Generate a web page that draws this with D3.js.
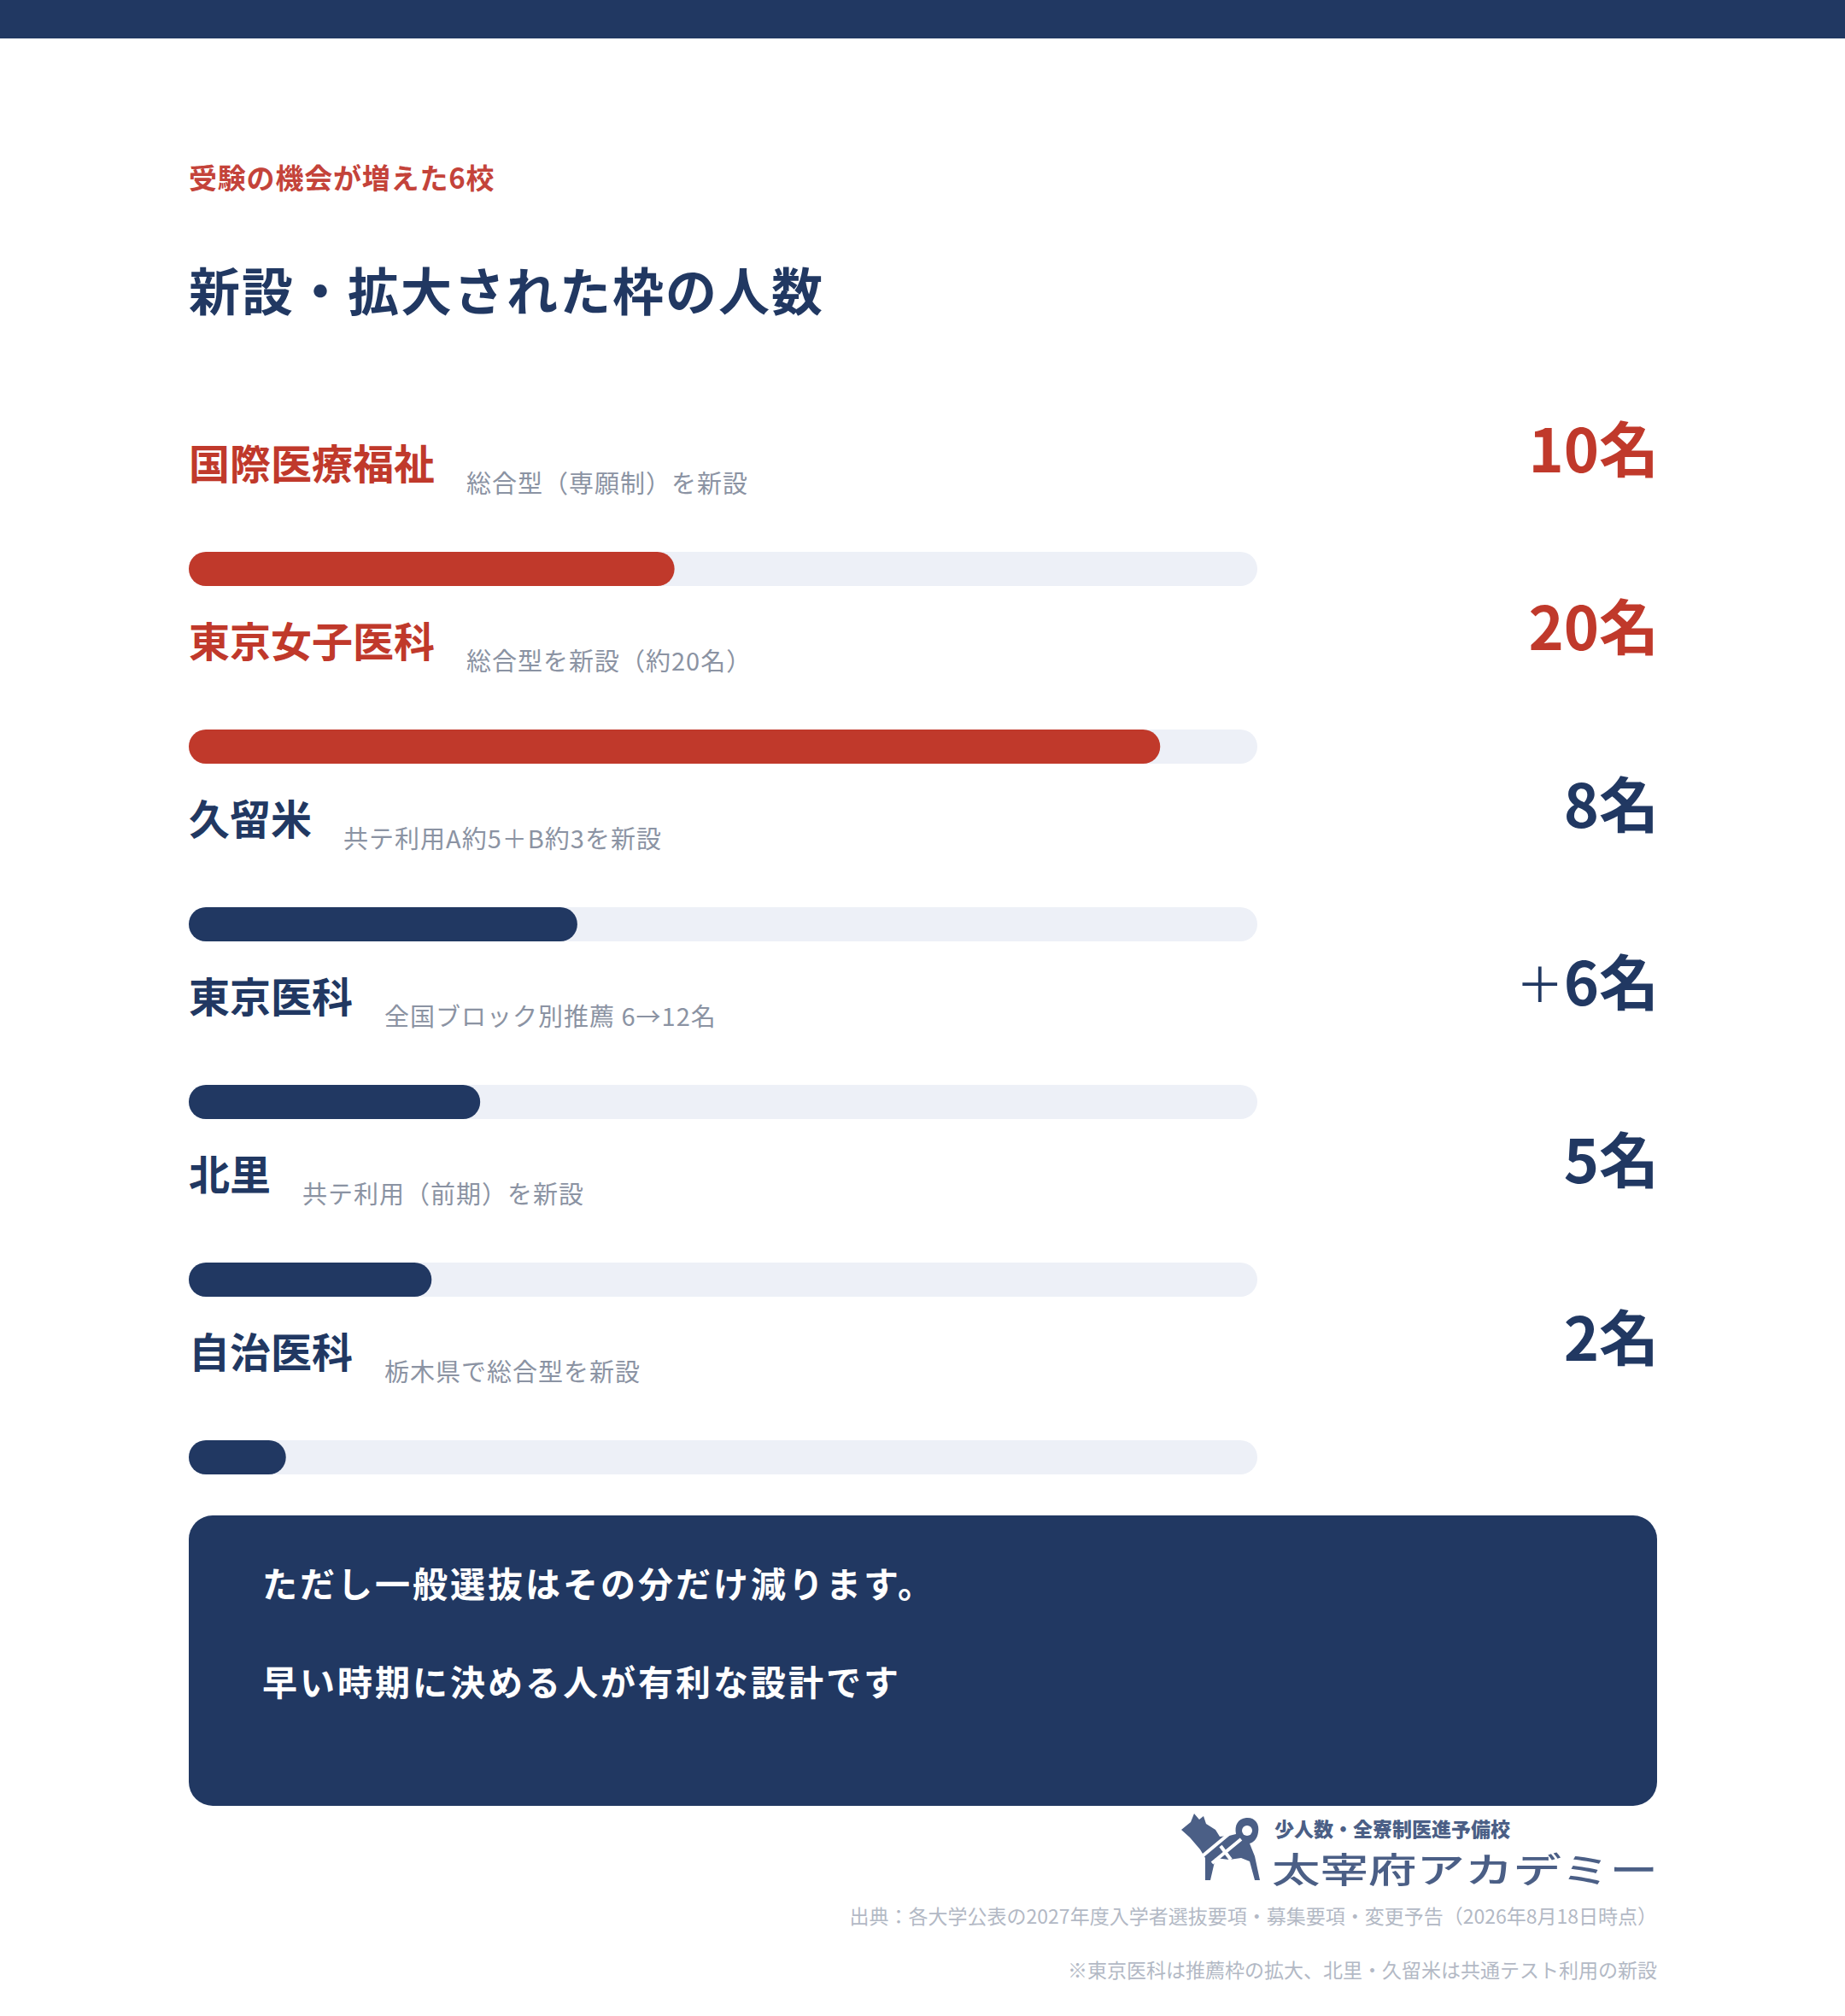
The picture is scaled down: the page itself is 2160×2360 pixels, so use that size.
<!DOCTYPE html>
<html lang="ja">
<head>
<meta charset="utf-8">
<script src="https://cdn.jsdelivr.net/npm/d3@7"></script>
<style>
  body { margin: 0; background: #fff; }
  svg { display: block; font-family: "Noto Sans CJK JP", "Noto Sans", sans-serif; }
</style>
</head>
<body>
<svg id="chart" width="2160" height="2360"></svg>
<script>
// data
var schools = ["国際医療福祉", "東京女子医科", "久留米", "東京医科", "北里", "自治医科"];
var notes = [
    "総合型（専願制）を新設",
    "総合型を新設（約20名）",
    "共テ利用A約5＋B約3を新設",
    "全国ブロック別推薦 6→12名",
    "共テ利用（前期）を新設",
    "栃木県で総合型を新設"
];
var counts = [10, 20, 8, 6, 5, 2];
var countPrefix = ["", "", "", "＋", "", ""];
var highlighted = ["国際医療福祉", "東京女子医科"];
var countMax = 22;

var kicker = "受験の機会が増えた6校";
var title = "新設・拡大された枠の人数";
var boxLines = ["ただし一般選抜はその分だけ減ります。", "早い時期に決める人が有利な設計です"];
var sourceLines = [
    "出典：各大学公表の2027年度入学者選抜要項・募集要項・変更予告（2026年8月18日時点）",
    "※東京医科は推薦枠の拡大、北里・久留米は共通テスト利用の新設"
];

var navy = "#213862";
var red = "#c0392b";

var drawChart = function() {
    let svg = d3.select("#chart");

    let margin = { left: 221, right: 220 };
    let trackWidth = 1251;
    let barH = 40;

    // top band
    svg.append("rect")
        .attr("x", 0).attr("y", 0)
        .attr("width", 2160).attr("height", 45)
        .attr("fill", navy);

    svg.append("text")
        .attr("x", margin.left).attr("y", 221)
        .attr("fill", "#c4433a")
        .style("font-size", "33px")
        .style("font-weight", 700)
        .style("letter-spacing", "0.8px")
        .text(kicker);

    svg.append("text")
        .attr("x", margin.left).attr("y", 364)
        .attr("fill", navy)
        .style("font-size", "60px")
        .style("font-weight", 700)
        .style("letter-spacing", "2px")
        .text(title);

    let xScale = d3.scaleLinear()
        .domain([0, countMax])
        .range([0, trackWidth]);

    let yScale = d3.scalePoint()
        .domain(schools)
        .range([666, 1706]);

    let colorOf = function(name) {
        return highlighted.indexOf(name) >= 0 ? red : navy;
    };

    let rows = svg.selectAll("g.row")
        .data(schools.map(function(s, i) {
            return { name: s, note: notes[i], value: counts[i], prefix: countPrefix[i] };
        }))
        .enter().append("g")
        .attr("class", "row")
        .attr("transform", function(d) { return "translate(" + margin.left + "," + yScale(d.name) + ")"; });

    // track
    rows.append("rect")
        .attr("x", 0).attr("y", -barH / 2)
        .attr("width", xScale(countMax)).attr("height", barH)
        .attr("rx", barH / 2)
        .attr("fill", "#edf0f7");

    // filled bar
    rows.append("rect")
        .attr("x", 0).attr("y", -barH / 2)
        .attr("width", function(d) { return xScale(d.value); })
        .attr("height", barH)
        .attr("rx", barH / 2)
        .attr("fill", function(d) { return colorOf(d.name); });

    let labels = rows.append("text")
        .attr("x", 0).attr("y", -105)
        .attr("fill", function(d) { return colorOf(d.name); })
        .style("font-size", "48px")
        .style("font-weight", 700)
        .text(function(d) { return d.name; });

    rows.append("text")
        .attr("x", function(d, i) { return labels.nodes()[i].getComputedTextLength() + 37; })
        .attr("y", -89)
        .attr("fill", "#8b93a3")
        .style("font-size", "29px")
        .style("letter-spacing", "1px")
        .text(function(d) { return d.note; });

    let vals = rows.append("text")
        .attr("x", 1942 - margin.left)
        .attr("y", -113)
        .attr("text-anchor", "end")
        .attr("fill", function(d) { return colorOf(d.name); })
        .style("font-size", "70px")
        .style("font-weight", 700);
    vals.append("tspan")
        .style("font-weight", 400)
        .style("font-size", "56px")
        .attr("dy", -4)
        .text(function(d) { return d.prefix; });
    vals.append("tspan")
        .attr("dy", function(d) { return d.prefix ? 4 : 0; })
        .text(function(d) { return d.value + "名"; });

    // note box
    svg.append("rect")
        .attr("x", 221).attr("y", 1774)
        .attr("width", 1719).attr("height", 340)
        .attr("rx", 28)
        .attr("fill", navy);

    svg.selectAll("text.box")
        .data(boxLines)
        .enter().append("text")
        .attr("class", "box")
        .attr("x", 307)
        .attr("y", function(d, i) { return 1870 + i * 115; })
        .attr("fill", "#fff")
        .style("font-size", "41px")
        .style("font-weight", 700)
        .style("letter-spacing", "3px")
        .text(function(d) { return d; });

    // logo
    let logo = svg.append("g").attr("transform", "translate(1383,2123)");
    logo.append("path")
        .attr("fill", "#4b5f86")
        .attr("d", "M0,19 L11,10 L15,0 L21,7 L26,3 L29,12 L40,19 L45,27 L56,26 L64,24 " +
                   "C62,14 66,6 76,5 C86,4 92,12 90,22 C89,30 84,34 80,35 L86,50 L92,78 L86,78 L80,56 " +
                   "L70,52 L56,54 L40,52 L34,78 L28,78 L28,52 L22,42 L10,28 Z");
    logo.append("circle")
        .attr("cx", 77).attr("cy", 20).attr("r", 6)
        .attr("fill", "#fff");
    logo.append("path")
        .attr("fill", "none")
        .attr("stroke", "#fff")
        .attr("stroke-width", 4)
        .attr("d", "M22,52 L58,22 M36,58 L70,30 M58,54 L46,38");

    svg.append("text")
        .attr("x", 1492).attr("y", 2150)
        .attr("fill", "#4b5f86")
        .style("font-size", "23px")
        .style("font-weight", 900)
        .text("少人数・全寮制医進予備校");

    svg.append("text")
        .attr("x", 1489).attr("y", 2204)
        .attr("fill", "#4b5f86")
        .attr("textLength", 452)
        .attr("lengthAdjust", "spacingAndGlyphs")
        .style("font-size", "41px")
        .style("font-weight", 500)
        .text("太宰府アカデミー");

    svg.selectAll("text.src")
        .data(sourceLines)
        .enter().append("text")
        .attr("class", "src")
        .attr("x", 1940)
        .attr("y", function(d, i) { return 2252 + i * 63; })
        .attr("text-anchor", "end")
        .attr("fill", "#b3b9c5")
        .style("font-size", "23px")
        .text(function(d) { return d; });
};

drawChart();
</script>
</body>
</html>
